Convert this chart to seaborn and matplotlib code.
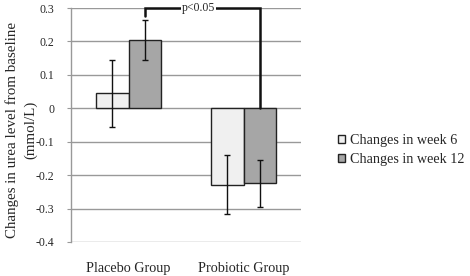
import matplotlib
matplotlib.use('Agg')
import numpy as np
import pandas as pd
import seaborn as sns
import matplotlib.pyplot as plt

groups = ['Placebo Group', 'Probiotic Group']
series = ['Changes in week 6', 'Changes in week 12']
week6 = [0.045, -0.228]
week12 = [0.205, -0.224]
err6 = [0.10, 0.089]
err12 = [0.06, 0.07]

df = pd.DataFrame({
    'group': groups * 2,
    'series': [series[0]] * 2 + [series[1]] * 2,
    'value': week6 + week12,
    'err': err6 + err12,
})

sns.set_style('white')
plt.rcParams['font.family'] = ['Liberation Serif', 'DejaVu Serif']

fig = plt.figure(figsize=(4.7, 2.76), dpi=100)
ax = fig.add_axes([71 / 470, 1 - 242 / 276, 230 / 470, 234 / 276])

sns.barplot(data=df, x='group', y='value', hue='series',
            palette=['#f0f0f0', '#a6a6a6'], width=0.565,
            edgecolor='#222222', linewidth=1.0, errorbar=None,
            ax=ax, zorder=3)

# error bars from the bar centres
for cont, col in zip(ax.containers, [err6, err12]):
    xs = [p.get_x() + p.get_width() / 2 for p in cont.patches]
    ys = [p.get_y() + p.get_height() for p in cont.patches]
    ax.errorbar(xs, ys, yerr=col, fmt='none', ecolor='#111111',
                elinewidth=1.0, capsize=2.5, capthick=1.0, zorder=4)

ax.set_ylim(-0.4, 0.3)
ax.set_xlim(-0.5, 1.5)
ax.set_yticks(np.arange(-0.4, 0.31, 0.1))
ax.set_yticklabels(['-0.4', '-0.3', '-0.2', '-0.1', '0', '0.1', '0.2', '0.3'])
ax.yaxis.grid(True, color='#999999', linewidth=1.0, zorder=0)
ax.set_axisbelow(True)
for s in ['top', 'right', 'bottom']:
    ax.spines[s].set_visible(False)
ax.spines['left'].set_color('#999999')
ax.spines['left'].set_linewidth(1.0)
ax.tick_params(axis='y', left=True, length=3, color='#999999',
               labelsize=8.5, pad=9)
ax.tick_params(axis='x', bottom=False, labelsize=10.2, pad=11)
ax.set_xlabel('')
ax.set_ylabel('Changes in urea level from baseline\n(mmol/L)', fontsize=10.8,
              linespacing=1.4)
ax.yaxis.set_label_coords(-34 / 230, 0.48)

# significance bracket
c12 = ax.containers[1].patches
xl = c12[0].get_x() + c12[0].get_width() / 2
xr = c12[1].get_x() + c12[1].get_width() / 2
ax.plot([xl, xl, xr, xr], [0.276, 0.3, 0.3, 0.0], color='#111111',
        linewidth=1.8, clip_on=False, zorder=5, solid_joinstyle='miter')
ax.text((xl + xr) / 2 - 0.03, 0.3, 'p<0.05', ha='center', va='center',
        fontsize=8.5, zorder=6, clip_on=False,
        bbox=dict(facecolor='white', edgecolor='none', pad=0.5))

ax.legend(loc='center left', bbox_to_anchor=(261 / 230, 0.5 - 25 / 234),
          frameon=False, fontsize=10.2, handlelength=0.55, handleheight=0.55,
          handletextpad=0.3, labelspacing=0.45, borderaxespad=0)

fig.savefig('out.png', dpi=100)
